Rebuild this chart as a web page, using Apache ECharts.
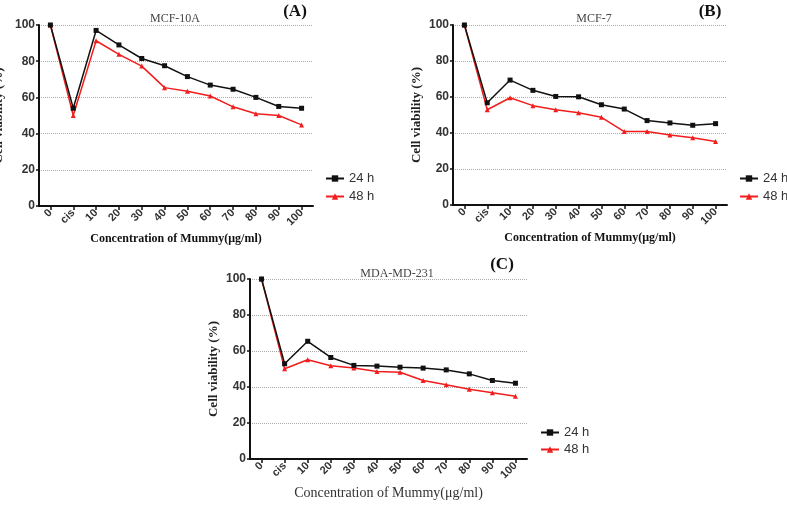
<!DOCTYPE html>
<html>
<head>
<meta charset="utf-8">
<script src="https://cdn.jsdelivr.net/npm/echarts@6/dist/echarts.min.js"></script>
<style>
html,body{margin:0;padding:0;background:#fff;}
#chart{width:787px;height:511px;}
</style>
</head>
<body>
<div id="chart"></div>
<script>
var categories = ['0', 'cis', '10', '20', '30', '40', '50', '60', '70', '80', '90', '100'];
var seriesNames = ['24 h', '48 h'];
var mcf10a24 = [100, 54, 97, 89, 81.5, 77.5, 71.5, 66.8, 64.5, 60, 55, 54];
var mcf10a48 = [100, 50, 91.3, 83.8, 77.3, 65.4, 63.4, 60.8, 54.8, 51, 50, 44.8];
var mcf724 = [100, 56.8, 69.4, 63.7, 60.3, 60.1, 55.7, 53.3, 46.9, 45.6, 44.3, 45.2];
var mcf748 = [100, 52.9, 59.6, 55.2, 52.9, 51.3, 48.7, 40.8, 40.8, 38.9, 37.3, 35.3];
var mda24 = [100, 52.9, 65.4, 56.4, 52, 51.6, 51, 50.5, 49.5, 47.3, 43.6, 42.1];
var mda48 = [100, 50.1, 55.1, 51.8, 50.5, 48.6, 48.2, 43.6, 41.2, 38.8, 36.8, 34.9];
var yMin = 0, yMax = 100, yStep = 20;

var serif = '"Liberation Serif", "Times New Roman", serif';
var sans = '"Liberation Sans", Arial, sans-serif';

// one entry per panel (A, B, C)
var panels = [
    {grid: {left: 39, top: 25, width: 274, height: 181, outerBoundsMode: 'none'}, title: 'MCF-10A', tag: '(A)', tx: 175, ty: 19, ax: 295, ay: 12,
     d24: mcf10a24, d48: mcf10a48, boldName: true, yGap: 34, legend: {left: 325, top: 172, itemGap: 5}},
    {grid: {left: 453, top: 25, width: 274, height: 180, outerBoundsMode: 'none'}, title: 'MCF-7', tag: '(B)', tx: 594, ty: 19, ax: 710, ay: 12,
     d24: mcf724, d48: mcf748, boldName: true, yGap: 30, legend: {left: 739, top: 172, itemGap: 5}},
    {grid: {left: 250, top: 279, width: 277, height: 180, outerBoundsMode: 'none'}, title: 'MDA-MD-231', tag: '(C)', tx: 397, ty: 274, ax: 502, ay: 265,
     d24: mda24, d48: mda48, boldName: false, yGap: 30, legend: {left: 540, top: 426, itemGap: 4}}
];

var grids = [], xAxes = [], yAxes = [], series = [], legends = [], texts = [];

panels.forEach(function (p, i) {
    grids.push(p.grid);
    xAxes.push({
        type: 'category',
        gridIndex: i,
        data: categories,
        boundaryGap: true,
        name: 'Concentration of Mummy(μg/ml)',
        nameLocation: 'middle',
        nameGap: 27,
        nameTextStyle: {
            fontFamily: serif,
            fontSize: p.boldName ? 12 : 14,
            fontWeight: p.boldName ? 'bold' : 'normal',
            color: p.boldName ? '#111' : '#333'
        },
        axisLine: {lineStyle: {color: '#111', width: 2}},
        axisTick: {show: true, alignWithLabel: true, length: 4, lineStyle: {color: '#111', width: 1.5}},
        axisLabel: {
            rotate: 45,
            interval: 0,
            margin: 5,
            fontFamily: sans,
            fontWeight: 'bold',
            fontSize: 11,
            color: '#333'
        },
        splitLine: {show: false}
    });
    yAxes.push({
        type: 'value',
        gridIndex: i,
        min: yMin,
        max: yMax,
        interval: yStep,
        name: 'Cell viability (%)',
        nameLocation: 'middle',
        nameGap: p.yGap,
        nameTextStyle: {fontFamily: serif, fontSize: 13, fontWeight: 'bold', color: '#222'},
        axisLine: {show: true, lineStyle: {color: '#111', width: 2}},
        axisTick: {show: true, length: 3, lineStyle: {color: '#111', width: 1.5}},
        axisLabel: {fontFamily: sans, fontWeight: 'bold', fontSize: 12, color: '#333', margin: 4},
        splitLine: {show: true, lineStyle: {color: '#aaa', type: 'dotted', width: 1}}
    });
    series.push({
        name: seriesNames[1],
        type: 'line',
        xAxisIndex: i,
        yAxisIndex: i,
        data: p.d48,
        symbol: 'triangle',
        symbolSize: 5,
        itemStyle: {color: '#f21d1d'},
        lineStyle: {color: '#f21d1d', width: 1.5},
        z: 2
    });
    series.push({
        name: seriesNames[0],
        type: 'line',
        xAxisIndex: i,
        yAxisIndex: i,
        data: p.d24,
        symbol: 'rect',
        symbolSize: 5,
        itemStyle: {color: '#111'},
        lineStyle: {color: '#111', width: 1.5},
        z: 3
    });
    legends.push({
        data: seriesNames,
        orient: 'vertical',
        left: p.legend.left,
        top: p.legend.top,
        itemGap: p.legend.itemGap,
        itemWidth: 18,
        itemHeight: 8,
        padding: 0,
        textStyle: {fontFamily: sans, fontSize: 13, color: '#333'}
    });
    texts.push({
        type: 'text',
        x: p.tx,
        y: p.ty,
        style: {text: p.title, align: 'center', verticalAlign: 'middle', font: '12px ' + serif, fill: '#444'}
    });
    texts.push({
        type: 'text',
        x: p.ax,
        y: p.ay,
        style: {text: p.tag, align: 'center', verticalAlign: 'middle', font: 'bold 17px ' + serif, fill: '#111'}
    });
});

var myChart = echarts.init(document.getElementById('chart'));
var option = {
    animation: false,
    backgroundColor: '#fff',
    grid: grids,
    xAxis: xAxes,
    yAxis: yAxes,
    legend: legends,
    graphic: texts,
    series: series
};
myChart.setOption(option);
</script>
</body>
</html>
